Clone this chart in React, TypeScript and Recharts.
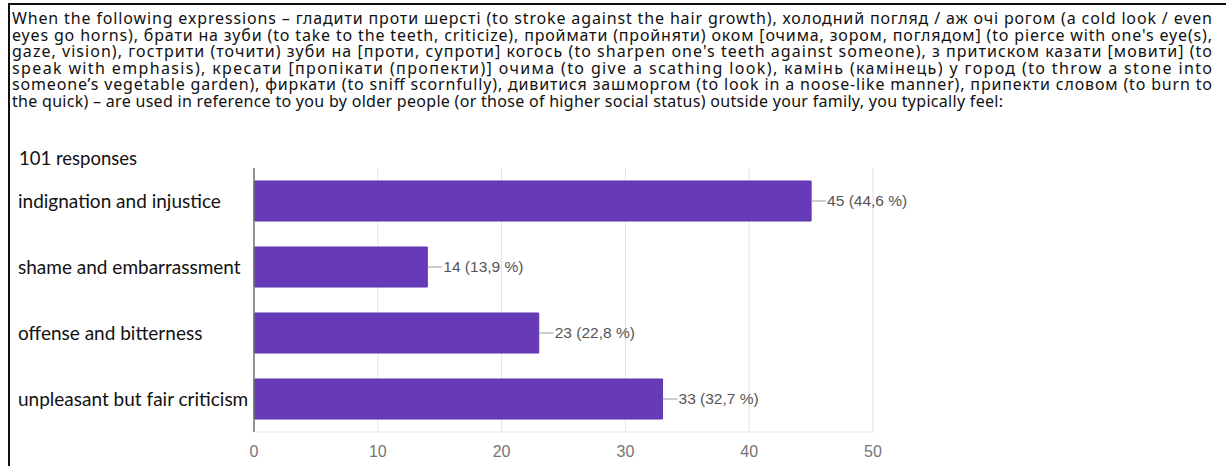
import { Bar, BarChart, CartesianGrid, LabelList, XAxis, YAxis } from 'recharts';

const categories = [
  'indignation and injustice',
  'shame and embarrassment',
  'offense and bitterness',
  'unpleasant but fair criticism',
];
const counts = [45, 14, 23, 33];
const percents = ['44,6', '13,9', '22,8', '32,7'];
const xTicks = [0, 10, 20, 30, 40, 50];
const minorTicks = [0, 5, 10, 15, 20, 25, 30, 35, 40, 45, 50];

const titleLines = [
  'When the following expressions – гладити проти шерсті (to stroke against the hair growth), холодний погляд / аж очі рогом (a cold look / even',
  "eyes go horns), брати на зуби (to take to the teeth, criticize), проймати (пройняти) оком [очима, зором, поглядом] (to pierce with one's eye(s),",
  "gaze, vision), гострити (точити) зуби на [проти, супроти] когось (to sharpen one's teeth against someone), з притиском казати [мовити] (to",
  'speak with emphasis), кресати [пропікати (пропекти)] очима (to give a scathing look), камінь (камінець) у город (to throw a stone into',
  'someone’s vegetable garden), фиркати (to sniff scornfully), дивитися зашморгом (to look in a noose-like manner), припекти словом (to burn to',
  'the quick) – are used in reference to you by older people (or those of higher social status) outside your family, you typically feel:',
];
const titleWidths = [1200, 1200, 1200, 1200, 1200, 991];
const responsesText = '101 responses';

const data = categories.map((name, i) => ({ name, value: counts[i], pct: percents[i] }));

const FONT = 'Lato, "Open Sans", sans-serif';
const TITLE_FONT = '"Noto Sans", sans-serif';
const AXIS_FONT = '"Liberation Sans", Arial, sans-serif';

const CategoryTick = (props: any) => {
  const { y, payload } = props;
  return (
    <text x={18} y={y} dy="0.35em" fontSize={19} fill="#111" fontFamily={FONT}>
      {payload.value}
    </text>
  );
};

const ValueLabel = (props: any) => {
  const { x, y, width, height, index } = props;
  const end = Number(x) + Number(width);
  const cy = Number(y) + Number(height) / 2;
  const d = data[index];
  return (
    <g>
      <line x1={end} x2={end + 15} y1={cy} y2={cy} stroke="#9e9e9e" strokeWidth={1} />
      <text x={end + 16} y={cy} dy="0.35em" fontSize={15.5} fill="#555" fontFamily={AXIS_FONT}>
        {`${d.value} (${d.pct} %)`}
      </text>
    </g>
  );
};

export default function App() {
  return (
    <div style={{ position: 'absolute', left: 0, top: 0, width: 1226, height: 466, background: '#fff' }}>
      <svg width={1226} height={466} style={{ position: 'absolute', left: 0, top: 0 }}>
        <line x1={8} x2={1226} y1={4} y2={4} stroke="#111" strokeWidth={2} />
        <line x1={9} x2={9} y1={4} y2={466} stroke="#111" strokeWidth={2} />
        {titleLines.map((t, i) => (
          <text
            key={i}
            x={12}
            y={24 + i * 16.5}
            fontSize={16}
            fill="#111"
            fontFamily={TITLE_FONT}
            textLength={titleWidths[i]}
            lengthAdjust="spacing">
            {t}
          </text>
        ))}
        <text x={19} y={165} fontSize={18.5} fill="#111" fontFamily={FONT}>
          {responsesText}
        </text>
      </svg>
      <div style={{ position: 'absolute', left: 0, top: 0 }}>
        <BarChart
          width={1226}
          height={466}
          data={data}
          layout="vertical"
          barSize={40}
          margin={{ top: 168, right: 353, bottom: 0, left: 18 }}>
          <CartesianGrid xAxisId="minor" horizontal={false} stroke="#f1f1f1" />
          <CartesianGrid horizontal={false} stroke="#e4e4e4" />
          <XAxis
            xAxisId="minor"
            type="number"
            domain={[0, 50]}
            ticks={minorTicks}
            hide
          />
          <XAxis
            type="number"
            domain={[0, 50]}
            ticks={xTicks}
            height={34}
            tickLine={false}
            axisLine={{ stroke: '#e4e4e4' }}
            tickMargin={8}
            tick={{ fill: '#757575', fontSize: 16, fontFamily: AXIS_FONT }}
          />
          <YAxis
            type="category"
            dataKey="name"
            width={236}
            tickLine={false}
            axisLine={{ stroke: '#777', strokeWidth: 1.5 }}
            tick={<CategoryTick />}
          />
          <Bar dataKey="value" fill="#673ab7" stroke="#5e35b1" strokeWidth={1} isAnimationActive={false}>
            <LabelList dataKey="value" content={<ValueLabel />} />
          </Bar>
        </BarChart>
      </div>
    </div>
  );
}
